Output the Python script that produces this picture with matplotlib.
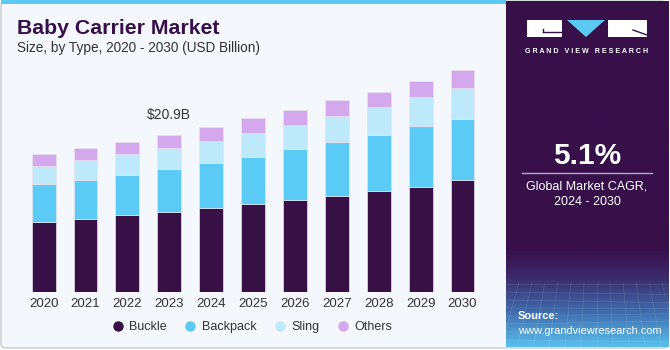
import matplotlib.pyplot as plt
import numpy as np
from matplotlib.patches import Rectangle, FancyBboxPatch, Polygon
from matplotlib.lines import Line2D
from matplotlib.colors import LinearSegmentedColormap

plt.rcParams['font.family'] = ['Liberation Sans', 'DejaVu Sans']

years = ['2020', '2021', '2022', '2023', '2024', '2025', '2026', '2027', '2028', '2029', '2030']
buckle = [9.34, 9.78, 10.23, 10.67, 11.24, 11.70, 12.31, 12.84, 13.46, 14.03, 14.92]
backpack = [5.01, 5.14, 5.40, 5.67, 5.98, 6.33, 6.70, 7.10, 7.44, 8.03, 8.07]
sling = [2.43, 2.66, 2.75, 2.83, 2.92, 3.19, 3.23, 3.50, 3.68, 3.89, 4.12]
others = [1.55, 1.55, 1.63, 1.73, 1.82, 1.91, 1.99, 2.17, 2.07, 2.17, 2.47]
series = ['Buckle', 'Backpack', 'Sling', 'Others']
colors = ['#371046', '#5bcbf5', '#bde9fa', '#d4a8ec']
label_year = '2023'
label_text = '$20.9B'

W, H = 670, 350
bg = '#f4f8fc'
dark = '#37104a'


def fx(x):
    return x / W


def fy(y):
    return 1 - y / H


fig = plt.figure(figsize=(6.7, 3.5), dpi=100)
fig.patch.set_facecolor('white')

# card background with border
fig.patches.append(FancyBboxPatch((fx(1), fy(348)), fx(667), 347 / H,
                                  boxstyle='round,pad=0,rounding_size=0.01',
                                  transform=fig.transFigure, facecolor=bg,
                                  edgecolor='#c8ccd2', linewidth=1.0, zorder=-10))
# top blue strip
fig.patches.append(Rectangle((fx(1), fy(4)), fx(505), 4 / H, transform=fig.transFigure,
                             facecolor='#5bc9f0', edgecolor='none', zorder=-9))

# chart axes
ax = fig.add_axes([0, fy(292.3), fx(506), fy(60) - fy(292.3)])
ax.set_facecolor('none')
x = np.arange(len(years))
bottom = np.zeros(len(years))
for name, vals, c in zip(series, [buckle, backpack, sling, others], colors):
    ax.bar(x, vals, width=0.57, bottom=bottom, color=c, edgecolor='#e6e2ee',
           linewidth=0.5, label=name, zorder=2)
    bottom += np.array(vals)
ax.set_xlim(-1.043, 11.04)
ax.set_ylim(0, 30.87)
for s in ax.spines.values():
    s.set_visible(False)
ax.set_yticks([])
ax.set_xticks(x)
ax.set_xticklabels(years, fontsize=9.5, color='#333333')
ax.tick_params(axis='x', length=0, pad=4)

i = years.index(label_year)
ax.text(x[i], bottom[i] + 1.7, label_text, ha='center', va='bottom', fontsize=10,
        color='#333333')

# legend
handles = [Line2D([], [], marker='o', linestyle='none', markersize=7.5,
                  markerfacecolor=c, markeredgecolor='none') for c in colors]
fig.legend(handles, series, loc='center', bbox_to_anchor=(fx(252), fy(327)), ncol=4,
           frameon=False, fontsize=9, handlelength=1.0, handletextpad=0.45,
           columnspacing=1.35, labelcolor='#333333')

# titles
fig.text(fx(17), fy(29), 'Baby Carrier Market', fontsize=15.3, fontweight='bold',
         color=dark, va='center', ha='left')
fig.text(fx(17), fy(48), 'Size, by Type, 2020 - 2030 (USD Billion)', fontsize=9.8,
         color='#333333', va='center', ha='left')

# right panel
pax = fig.add_axes([fx(506), fy(347), fx(163), 346 / H])
pax.set_xlim(506, 669)
pax.set_ylim(347, 1)
pax.axis('off')
grad = np.linspace(0, 1, 200)[:, None]
cmap = LinearSegmentedColormap.from_list('p', [(0, dark), (0.72, dark), (0.8, '#3b2a6a'),
                                               (0.9, '#3f6aac'), (1, '#58bdeb')])
pax.imshow(grad, cmap=cmap, aspect='auto', extent=[506, 669, 347, 1], zorder=0)
# faint grid texture
for k in range(9):
    yy = 284 + k * 8
    pax.plot([506, 669], [yy, yy + 3 * np.sin(k)], color='white', alpha=0.12, lw=0.5)
for k in range(14):
    xx = 506 + k * 13
    pax.plot([xx, xx + (k - 7) * 3], [282, 347], color='white', alpha=0.12, lw=0.5)

# logo
pax.add_patch(Rectangle((527, 20), 35, 17, facecolor='white', edgecolor='none'))
pax.plot([543, 562], [32, 32], color=dark, lw=1.0)
pax.plot([543, 543], [28.5, 32], color=dark, lw=1.0)
pax.add_patch(Polygon([[567, 20], [605, 20], [586, 37]], facecolor='#5bc9f0',
                      edgecolor='none'))
pax.add_patch(Rectangle((608, 20), 39, 17, facecolor='white', edgecolor='none'))
pax.plot([633, 647], [30, 35], color=dark, lw=1.0)
pax.text(587, 51, 'G R A N D   V I E W   R E S E A R C H', ha='center', va='center',
         fontsize=5.1, fontweight='bold', color='white')

pax.text(587, 156, '5.1%', ha='center', va='center', fontsize=21.5, fontweight='bold',
         color='white')
pax.plot([522, 652], [173, 173], color='#b9a8c8', lw=1.0)
pax.text(587, 186, 'Global Market CAGR,', ha='center', va='center', fontsize=9,
         color='white')
pax.text(587, 202, '2024 - 2030', ha='center', va='center', fontsize=9, color='white')
pax.text(518, 316, 'Source:', ha='left', va='center', fontsize=8, fontweight='bold',
         color='white')
pax.text(518, 331, 'www.grandviewresearch.com', ha='left', va='center', fontsize=7.9,
         color='white')

fig.savefig('out.png', dpi=100, facecolor=fig.get_facecolor())
